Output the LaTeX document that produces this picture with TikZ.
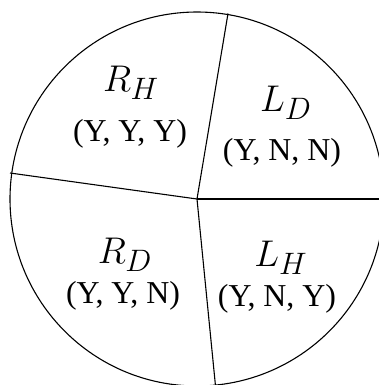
\documentclass[tikz,border=0pt]{standalone}
\usepackage{fontspec}
\setmainfont{Liberation Serif}
\usepackage{tikz}
\usetikzlibrary{positioning, calc}
\newcommand{\bigmath}[1]{\scalebox{1.5}{$#1$}}

\begin{document}
\begin{tikzpicture}[
    x=1bp, y=-1bp,
    edge/.style={line width=1.1bp, black},
    region/.style={anchor=base, inner sep=0pt, font=\fontsize{24.88}{30}\selectfont},
    tuple/.style={anchor=base, inner sep=0pt, font=\fontsize{32}{38}\selectfont}
]
    \useasboundingbox (0,0) rectangle (379,385);
    \clip (0,0) rectangle (379,385);

    \coordinate (o) at (197,199);
    \coordinate (top) at (228,13.5);
    \coordinate (left) at (10,173);
    \coordinate (bottom) at (215.5,386);
    \coordinate (right) at (384,199);

    \draw[edge] (o) circle (187);
    \draw[edge] (o) -- (top);
    \draw[edge] (o) -- (left);
    \draw[edge] (o) -- (bottom);
    \draw[edge] (o) -- (right);

    \node[region] (rh) at (131,91) {\bigmath{R_H}};
    \node[tuple] (rhv) at (130,141) {(Y, Y, Y)};
    \node[region] (ld) at (286,111) {\bigmath{L_D}};
    \node[tuple] (ldv) at (282,160) {(Y, N, N)};
    \node[region] (rd) at (125,263) {\bigmath{R_D}};
    \node[tuple] (rdv) at (123,303) {(Y, Y, N)};
    \node[region] (lh) at (281,266) {\bigmath{L_H}};
    \node[tuple] (lhv) at (277,306) {(Y, N, Y)};

\end{tikzpicture}
\end{document}
